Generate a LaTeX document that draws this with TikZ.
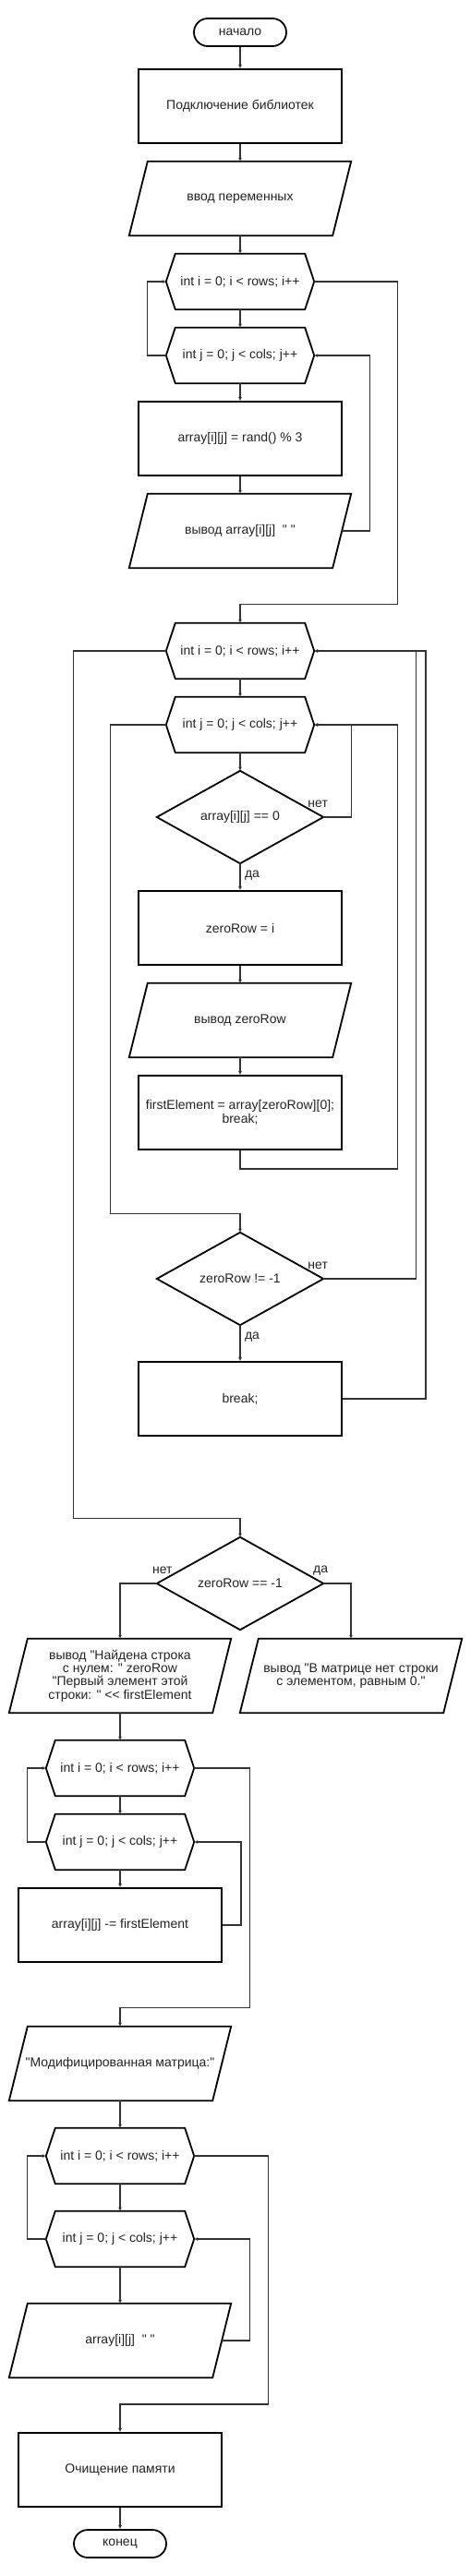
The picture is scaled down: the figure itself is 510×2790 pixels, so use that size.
\documentclass[tikz,border=0pt]{standalone}
\usepackage{fontspec}
\newfontfamily\lsans{Liberation Sans}
\usetikzlibrary{arrows.meta,calc}
\definecolor{txt}{HTML}{222222}
\definecolor{cline}{HTML}{333333}
\newcommand{\hexshape}[1]{\draw[shp] (#1.west) -- ([xshift=10pt]#1.north west) -- ([xshift=-10pt]#1.north east) -- (#1.east) -- ([xshift=-10pt]#1.south east) -- ([xshift=10pt]#1.south west) -- cycle;}
\newcommand{\ioshape}[1]{\draw[shp] ([xshift=10pt]#1.north west) -- ([xshift=10pt]#1.north east) -- ([xshift=-10pt]#1.south east) -- ([xshift=-10pt]#1.south west) -- cycle;}
\newcommand{\dshape}[1]{\draw[shp] (#1.north) -- (#1.east) -- (#1.south) -- (#1.west) -- cycle;}
\begin{document}
\begin{tikzpicture}[x=1pt,y=-1pt,
  every node/.style={font=\lsans\fontsize{14}{14.4}\selectfont, text=txt, inner sep=0pt, align=center},
  shp/.style={draw=black, line width=1.8pt, line join=miter},
  term/.style={shp, rounded corners=15pt, minimum width=100pt, minimum height=30pt},
  box/.style={shp, minimum width=220pt, minimum height=80pt},
  iobox/.style={minimum width=220pt, minimum height=80pt},
  hexbox/.style={minimum width=160pt, minimum height=60pt},
  dbox/.style={minimum width=180pt, minimum height=100pt},
  lbl/.style={},
  conn/.style={draw=cline, line width=1.3pt, -{Latex[length=4pt,width=4pt]}}]
\path[use as bounding box] (0,0) rectangle (510,2790);
% nodes
\node[term] (start) at (260,35) {начало};
\node[box] (lib) at (260,115) {Подключение библиотек};
\node[iobox] (inp) at (260,215) {ввод переменных}; \ioshape{inp}
\node[hexbox] (h1) at (260,305) {int i = 0; i < rows; i++}; \hexshape{h1}
\node[hexbox] (h2) at (260,385) {int j = 0; j < cols; j++}; \hexshape{h2}
\node[box] (rnd) at (260,475) {array[i][j] = rand() \% 3};
\node[iobox] (o1) at (260,575) {вывод array[i][j]\ \ " "}; \ioshape{o1}
\node[hexbox] (h3) at (260,705) {int i = 0; i < rows; i++}; \hexshape{h3}
\node[hexbox] (h4) at (260,785) {int j = 0; j < cols; j++}; \hexshape{h4}
\node[dbox] (d1) at (260,885) {array[i][j] == 0}; \dshape{d1}
\node[box] (zr) at (260,1005) {zeroRow = i};
\node[iobox] (ozr) at (260,1105) {вывод zeroRow}; \ioshape{ozr}
\node[box] (fe) at (260,1205) {firstElement = array[zeroRow][0];\\break;};
\node[dbox] (d2) at (260,1385) {zeroRow != -1}; \dshape{d2}
\node[box] (brk) at (260,1515) {break;};
\node[dbox] (d3) at (260,1715) {zeroRow == -1}; \dshape{d3}
\node[iobox] (lp) at (130,1815) {вывод "Найдена строка\\с нулем: " zeroRow\\"Первый элемент этой\\строки: " << firstElement}; \ioshape{lp}
\node[iobox] (rp) at (380,1815) {вывод "В матрице нет строки\\с элементом, равным 0."}; \ioshape{rp}
\node[hexbox] (h5) at (130,1915) {int i = 0; i < rows; i++}; \hexshape{h5}
\node[hexbox] (h6) at (130,1995) {int j = 0; j < cols; j++}; \hexshape{h6}
\node[box] (sub) at (130,2085) {array[i][j] -= firstElement};
\node[iobox] (mod) at (130,2235) {"Модифицированная матрица:"}; \ioshape{mod}
\node[hexbox] (h7) at (130,2335) {int i = 0; i < rows; i++}; \hexshape{h7}
\node[hexbox] (h8) at (130,2425) {int j = 0; j < cols; j++}; \hexshape{h8}
\node[iobox] (o3) at (130,2535) {array[i][j]\ \ " "}; \ioshape{o3}
\node[box] (clr) at (130,2675) {Очищение памяти};
\node[term] (fin) at (130,2755) {конец};
% labels
\node[lbl] (l1n) at ([xshift=-6pt,yshift=14pt]d1.east) {нет};
\node[lbl] (l1y) at ([xshift=13pt,yshift=-13pt]d1.south) {да};
\node[lbl] (l2n) at ([xshift=-6pt,yshift=14.5pt]d2.east) {нет};
\node[lbl] (l2y) at ([xshift=13pt,yshift=-13pt]d2.south) {да};
\node[lbl] (l3n) at ([xshift=6pt,yshift=14pt]d3.west) {нет};
\node[lbl] (l3y) at ([xshift=-3pt,yshift=14pt]d3.east) {да};
% connectors
\draw[conn] (start) -- (lib);
\draw[conn] (lib) -- (inp);
\draw[conn] (inp) -- (h1);
\draw[conn] (h1) -- (h2);
\draw[conn] (h2) -- (rnd);
\draw[conn] (rnd) -- (o1);
\draw[conn] (o1.east) -- ++(30,0) |- (h2.east);
\draw[conn] (h2.west) -- ++(-20,0) |- (h1.west);
\draw[conn] (h1.east) -- ++(90,0) |- ([yshift=20pt]h3.north) -- (h3.north);
\draw[conn] (h3) -- (h4);
\draw[conn] (h4) -- (d1.north);
\draw[conn] (d1.south) -- (zr);
\draw[conn] (zr) -- (ozr);
\draw[conn] (ozr) -- (fe);
\draw[conn] (fe.south) -- ++(0,20) -| ([xshift=90pt]h4.east) -- (h4.east);
\draw[conn] (d1.east) -- ++(30,0) |- (h4.east);
\draw[conn] (h4.west) -- ++(-60,0) |- ([yshift=20pt]d2.north) -- (d2.north);
\draw[conn] (d2.south) -- (brk);
\draw[conn] (d2.east) -- ++(100,0) |- (h3.east);
\draw[conn] (brk.east) -- ++(90,0) |- (h3.east);
\draw[conn] (h3.west) -- ++(-100,0) |- ([yshift=20pt]d3.north) -- (d3.north);
\draw[conn] (d3.west) -| (lp.north);
\draw[conn] (d3.east) -| (rp.north);
\draw[conn] (lp) -- (h5);
\draw[conn] (h5) -- (h6);
\draw[conn] (h6) -- (sub);
\draw[conn] (sub.east) -- ++(20,0) |- (h6.east);
\draw[conn] (h6.west) -- ++(-20,0) |- (h5.west);
\draw[conn] (h5.east) -- ++(60,0) |- ([yshift=20pt]mod.north) -- (mod.north);
\draw[conn] (mod) -- (h7);
\draw[conn] (h7) -- (h8);
\draw[conn] (h8) -- (o3);
\draw[conn] (o3.east) -- ++(30,0) |- (h8.east);
\draw[conn] (h8.west) -- ++(-20,0) |- (h7.west);
\draw[conn] (h7.east) -- ++(80,0) |- ([yshift=30pt]clr.north) -- (clr.north);
\draw[conn] (clr) -- (fin);
\end{tikzpicture}
\end{document}
